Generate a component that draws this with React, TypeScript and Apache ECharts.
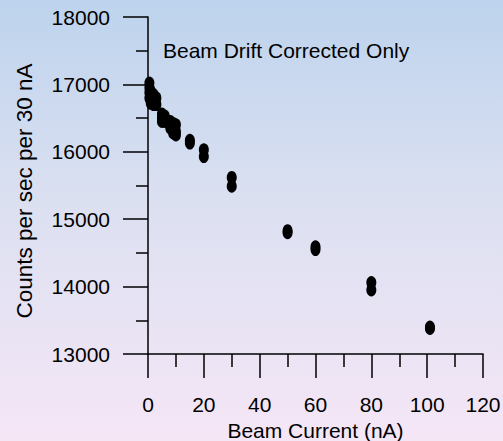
import React, { useEffect, useRef } from "react";
import * as echarts from "echarts";

const xValues = [0.5, 0.5, 0.5, 0.5, 1, 1, 1, 2, 2, 2, 3, 3, 5, 5, 5, 6, 6, 8, 8, 8, 9, 9, 9, 10, 10, 10, 15, 15, 20, 20, 30, 30, 50, 50, 60, 60, 80, 80, 101, 101];
const yValues = [17020, 16950, 16880, 16800, 16900, 16780, 16720, 16850, 16750, 16700, 16800, 16700, 16560, 16500, 16450, 16530, 16450, 16450, 16400, 16350, 16420, 16330, 16280, 16400, 16300, 16250, 16170, 16130, 16030, 15930, 15620, 15490, 14830, 14800, 14590, 14550, 14060, 13950, 13400, 13380];
const xTickLabels = ["0", "20", "40", "60", "80", "100", "120"];
const yTickLabels = ["13000", "14000", "15000", "16000", "17000", "18000"];
const annotation = "Beam Drift Corrected Only";
const xName = "Beam Current (nA)";
const yName = "Counts per sec per 30 nA";

const FONT = "'Liberation Sans', Arial, sans-serif";
const FS = 21;

export default function App() {
  const ref = useRef<HTMLDivElement>(null);
  useEffect(() => {
    if (!ref.current) return;
    const chart = echarts.init(ref.current, undefined, { renderer: "svg" });
    const pts = xValues.map((x, i) => [x, yValues[i]]);
    chart.setOption({
      animation: false,
      backgroundColor: "transparent",
      grid: { left: 148, right: 20, top: 17, bottom: 87, containLabel: false, outerBoundsMode: "none" },
      xAxis: {
        type: "value",
        min: 0,
        max: 120,
        interval: 20,
        name: xName,
        nameLocation: "middle",
        nameGap: 62,
        nameTextStyle: { fontFamily: FONT, fontSize: FS, color: "#000" },
        axisLine: { show: true, onZero: false, lineStyle: { color: "#000", width: 1.5 } },
        axisTick: { show: true, inside: false, length: 24, lineStyle: { color: "#000", width: 1.5 } },
        minorTick: { show: true, splitNumber: 2, length: 13, lineStyle: { color: "#000", width: 1.5 } },
        splitLine: { show: false },
        axisLabel: {
          margin: 40,
          fontFamily: FONT,
          fontSize: FS,
          color: "#000",
          formatter: (v: number) => xTickLabels[Math.round(v / 20)] ?? "",
        },
      },
      yAxis: {
        type: "value",
        min: 13000,
        max: 18000,
        interval: 1000,
        axisLine: { show: true, onZero: false, lineStyle: { color: "#000", width: 1.5 } },
        axisTick: { show: true, inside: false, length: 25, lineStyle: { color: "#000", width: 1.5 } },
        minorTick: { show: true, splitNumber: 2, length: 12, lineStyle: { color: "#000", width: 1.5 } },
        splitLine: { show: false },
        axisLabel: {
          margin: 38,
          fontFamily: FONT,
          fontSize: FS,
          color: "#000",
          formatter: (v: number) => yTickLabels[Math.round((v - 13000) / 1000)] ?? "",
        },
      },
      graphic: [
        {
          type: "text",
          left: 163,
          top: 40,
          style: { text: annotation, fontFamily: FONT, fontSize: FS, fill: "#000" },
        },
        {
          type: "text",
          x: 24,
          y: 191,
          rotation: Math.PI / 2,
          style: {
            text: yName,
            fontFamily: FONT,
            fontSize: 22.5,
            fill: "#000",
            align: "center",
            verticalAlign: "middle",
          },
        },
      ],
      series: [
        {
          type: "scatter",
          data: pts,
          symbol: "circle",
          symbolSize: [10, 13],
          itemStyle: { color: "#000", opacity: 1 },
        },
      ],
    });
    return () => chart.dispose();
  }, []);
  return (
    <div
      style={{
        position: "absolute",
        left: 0,
        top: 0,
        width: 503,
        height: 441,
        background: "linear-gradient(to bottom, #bdd3ed 0%, #dbe0f1 45%, #f5e6f6 100%)",
      }}
    >
      <div ref={ref} style={{ width: 503, height: 441 }} />
    </div>
  );
}
